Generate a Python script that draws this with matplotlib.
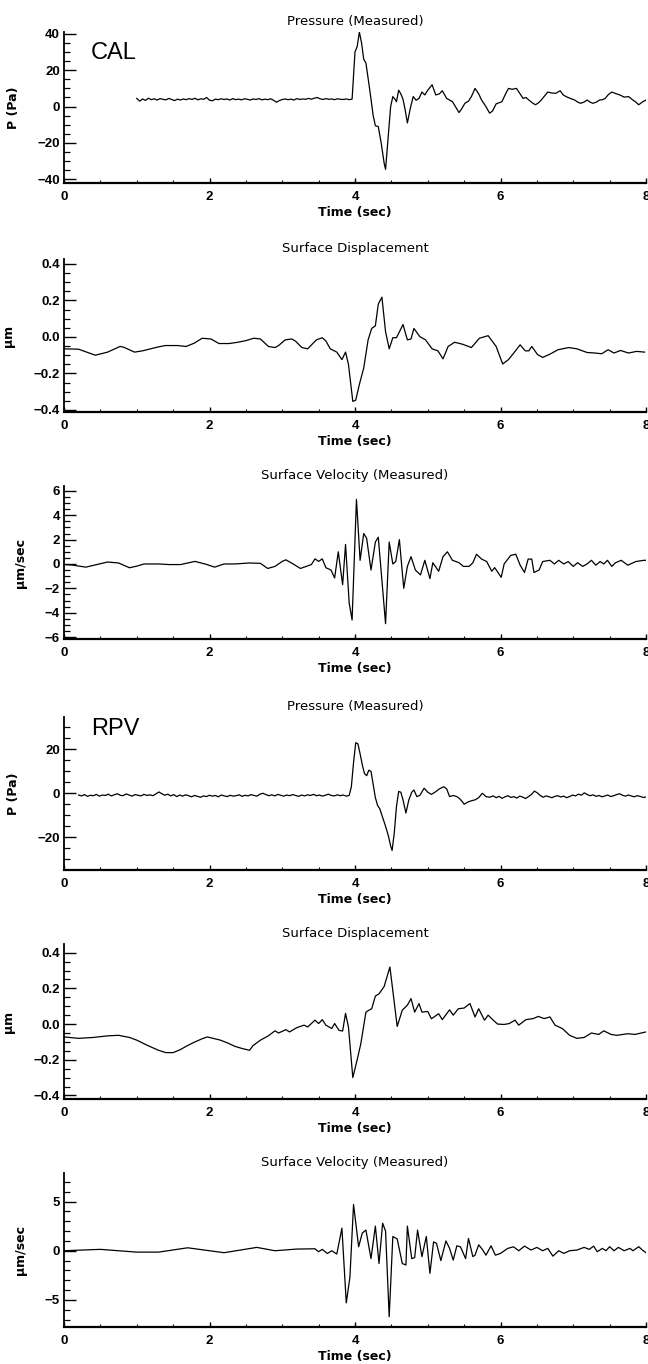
import numpy as np
import matplotlib
matplotlib.use("Agg")
import matplotlib.pyplot as plt
from matplotlib.ticker import MultipleLocator

# ---------------- data ----------------
# CAL pressure: noisy pre-arrival baseline (1.0 - 3.96 s) + event/tail
cal_p_base = [4.5, 3.0, 4.2, 3.4, 4.6, 3.8, 4.3, 3.6, 4.4, 4.0, 3.7, 4.5, 3.9, 3.3, 4.1,
              3.6, 4.2, 3.8, 4.4, 3.9, 4.6, 3.7, 4.3, 4.0, 5.0, 3.5, 3.2, 4.1, 3.8, 4.3,
              3.9, 4.2, 3.6, 4.4, 3.8, 4.1, 3.7, 4.3, 4.0, 3.6, 4.2, 3.9, 4.4, 3.7, 4.1,
              3.8, 4.3, 3.5, 2.4, 3.3, 3.9, 4.2, 3.8, 4.1, 3.6, 4.4, 3.9, 4.2, 4.0, 4.5,
              4.1, 4.6, 5.0, 4.3, 3.9, 4.4, 4.0, 4.2, 3.8, 4.3, 4.0, 3.9, 4.2, 3.8, 4.1]
cal_p_t = [4.00, 4.03, 4.06, 4.09, 4.12, 4.15, 4.20, 4.25, 4.28, 4.32, 4.36, 4.40, 4.42,
           4.45, 4.49, 4.52, 4.55, 4.57, 4.60, 4.63, 4.66, 4.69, 4.72, 4.76, 4.80, 4.84,
           4.88, 4.92, 4.96, 5.00, 5.06, 5.11, 5.16, 5.20, 5.26, 5.34, 5.38, 5.43, 5.47,
           5.51, 5.56, 5.60, 5.65, 5.70, 5.74, 5.80, 5.85, 5.89, 5.94, 6.02, 6.07, 6.11,
           6.16, 6.22, 6.27, 6.31, 6.35, 6.39, 6.44, 6.48, 6.52, 6.56, 6.61, 6.65, 6.70,
           6.76, 6.82, 6.86, 6.90, 6.96, 7.02, 7.06, 7.10, 7.15, 7.19, 7.23, 7.27, 7.32,
           7.36, 7.40, 7.44, 7.48, 7.53, 7.58, 7.64, 7.70, 7.76, 7.82, 7.86, 7.90, 7.95, 8.00]
cal_p_v = [30, 33, 41, 35, 26, 24, 10, -5, -10.5, -11, -20, -31, -34.5,
           -20, 0, 5.5, 4, 2.7, 9, 7, 4, -2, -9, -1, 5.5, 3.5,
           4.5, 8, 6.4, 9, 12, 6.4, 7, 8.7, 4.5, 2.7, 0, -3.3, -1,
           1.8, 3, 5.5, 10, 7, 3.6, 0, -3.6, -2.5, 1.5, 2.7, 7, 10,
           9.5, 10, 7, 4.5, 5, 3.6, 2, 1, 2, 3.6, 6, 8, 7.5,
           7.3, 8.7, 6.5, 5.5, 4.5, 3.6, 2.5, 1.8, 2.5, 3.6, 2.5, 1.8, 2.5,
           3.6, 3.8, 4.5, 6.5, 8, 7.2, 6.4, 5.2, 5.5, 3.6, 2.5, 1, 2.5, 3.6]

# CAL surface displacement (um)
cal_d_t = [0.00, 0.20, 0.43, 0.60, 0.77, 0.82, 0.97, 1.08, 1.28, 1.39, 1.56, 1.68, 1.79,
           1.90, 2.02, 2.13, 2.27, 2.39, 2.50, 2.61, 2.70, 2.81, 2.90, 2.95, 3.04, 3.13,
           3.18, 3.27, 3.35, 3.41, 3.47, 3.55, 3.60, 3.66, 3.75, 3.82, 3.87, 3.91, 3.97,
           4.01, 4.06, 4.12, 4.18, 4.23, 4.28, 4.32, 4.37, 4.42, 4.47, 4.52, 4.57, 4.66,
           4.72, 4.77, 4.81, 4.89, 4.97, 5.06, 5.14, 5.21, 5.28, 5.37, 5.48, 5.60, 5.71,
           5.83, 5.94, 6.03, 6.11, 6.20, 6.27, 6.34, 6.39, 6.43, 6.51, 6.58, 6.68, 6.79,
           6.94, 7.05, 7.19, 7.30, 7.39, 7.48, 7.56, 7.65, 7.76, 7.87, 7.98]
cal_d_v = [-0.065, -0.067, -0.100, -0.083, -0.052, -0.056, -0.083, -0.076, -0.056, -0.047,
           -0.047, -0.052, -0.034, -0.007, -0.011, -0.036, -0.036, -0.029, -0.020, -0.007,
           -0.011, -0.052, -0.058, -0.047, -0.016, -0.011, -0.022, -0.058, -0.065, -0.040,
           -0.016, -0.004, -0.022, -0.065, -0.083, -0.124, -0.083, -0.150, -0.353, -0.346,
           -0.260, -0.170, -0.016, 0.047, 0.061, 0.180, 0.218, 0.029, -0.065, -0.004,
           -0.004, 0.068, -0.016, -0.011, 0.047, 0.002, -0.016, -0.065, -0.076, -0.120,
           -0.052, -0.029, -0.040, -0.058, -0.007, 0.007, -0.052, -0.148, -0.124, -0.079,
           -0.043, -0.076, -0.076, -0.052, -0.097, -0.112, -0.094, -0.070, -0.058, -0.065,
           -0.085, -0.088, -0.092, -0.070, -0.088, -0.074, -0.088, -0.079, -0.083]

# CAL surface velocity (um/sec)
cal_v_t = [0.00, 0.10, 0.30, 0.60, 0.75, 0.90, 1.00, 1.10, 1.30, 1.45, 1.60, 1.80, 1.95,
           2.07, 2.20, 2.35, 2.55, 2.70, 2.80, 2.90, 3.00, 3.05, 3.15, 3.25, 3.40, 3.45,
           3.50, 3.55, 3.60, 3.67, 3.72, 3.77, 3.83, 3.87, 3.92, 3.96, 4.02, 4.07, 4.12,
           4.16, 4.22, 4.28, 4.32, 4.42, 4.47, 4.52, 4.56, 4.61, 4.67, 4.72, 4.77, 4.83,
           4.90, 4.96, 5.03, 5.07, 5.15, 5.21, 5.27, 5.34, 5.43, 5.49, 5.57, 5.62, 5.67,
           5.74, 5.81, 5.88, 5.92, 6.01, 6.05, 6.14, 6.21, 6.27, 6.33, 6.38, 6.43, 6.46,
           6.53, 6.58, 6.68, 6.74, 6.80, 6.87, 6.93, 7.00, 7.06, 7.13, 7.19, 7.25, 7.31,
           7.37, 7.42, 7.47, 7.53, 7.58, 7.66, 7.75, 7.86, 7.97, 8.00]
cal_v_v = [-0.05, -0.08, -0.26, 0.16, 0.08, -0.31, -0.18, 0.0, 0.0, -0.05, -0.05, 0.21, -0.02,
           -0.26, 0.0, 0.0, 0.08, 0.05, -0.37, -0.2, 0.21, 0.34, 0.0, -0.37, -0.05, 0.42,
           0.21, 0.42, -0.31, -0.5, -1.15, 1.0, -1.7, 1.6, -3.2, -4.6, 5.3, 0.3, 2.5,
           2.1, -0.5, 1.8, 2.2, -4.9, 1.8, 0.0, 0.2, 2.0, -2.0, -0.2, 0.6, -0.5,
           -0.9, 0.3, -1.2, 0.1, -0.6, 0.6, 1.0, 0.3, 0.1, -0.2, -0.2, 0.1, 0.8,
           0.4, 0.2, -0.6, -0.3, -1.1, 0.0, 0.7, 0.8, -0.1, -0.7, 0.4, 0.4, -0.7,
           -0.5, 0.2, 0.3, 0.0, 0.3, 0.0, 0.2, -0.2, 0.1, -0.2, 0.0, 0.3, -0.1,
           0.2, 0.0, 0.3, -0.2, 0.1, 0.3, -0.1, 0.2, 0.3, 0.3]

# RPV pressure: noisy baseline (0.2 - 3.92 s), event, noisy tail (5.9 - 8.0 s)
rpv_p_base = [-0.8, -1.2, -0.6, -1.4, -0.9, -1.1, -0.5, -1.3, -0.8, -1.0, -0.4, -1.2, -0.7,
              -0.2, -0.9, -1.1, -0.3, -0.8, -1.3, -0.6, -0.9, -1.2, -0.5, -1.0, -0.7, -1.1,
              -0.3, 0.6, -0.2, -0.9, -0.4, -1.2, -0.6, -1.5, -0.8, -1.3, -0.7, -1.1, -1.6,
              -1.0, -1.4, -1.8, -1.2, -1.5, -0.9, -1.3, -1.0, -1.6, -0.8, -1.2, -1.5, -0.9,
              -1.3, -1.1, -0.7, -1.4, -0.9, -1.2, -0.6, -1.0, -1.3, -0.4, 0.0, -0.6, -1.1,
              -0.7, -1.2, -0.5, -0.9, -1.3, -0.8, -1.1, -0.6, -1.0, -1.4, -0.8, -1.2, -0.7,
              -1.0, -0.5, -1.1, -0.8, -1.3, -0.9, -0.4, -1.0, -1.2, -0.7, -1.1, -0.8, -1.3, -1.0]
rpv_p_t = [3.95, 3.98, 4.01, 4.04, 4.07, 4.10, 4.13, 4.16, 4.19, 4.22, 4.25, 4.28, 4.31,
           4.34, 4.38, 4.42, 4.46, 4.49, 4.51, 4.54, 4.57, 4.60, 4.63, 4.66, 4.70, 4.74,
           4.78, 4.81, 4.85, 4.89, 4.95, 5.00, 5.05, 5.10, 5.16, 5.22, 5.26, 5.30, 5.35,
           5.40, 5.44, 5.48, 5.50, 5.55, 5.60, 5.65, 5.70, 5.75, 5.80, 5.85]
rpv_p_v = [3, 14, 23, 22.5, 18, 13, 9, 8, 10.5, 10, 4, -2, -5.5,
           -7, -11, -15, -19.5, -24, -26, -18, -6, 0.8, 0.5, -3, -9, -3,
           0.5, 1.5, -1.5, -1, 2.3, 0.5, -0.5, 0.5, 2, 3, 2, -1.5, -1,
           -1.5, -2.5, -4, -5, -4, -3.4, -3, -2, 0, -1.5, -1.8]
rpv_p_tail = [-1.2, -2.0, -1.4, -2.3, -1.6, -1.1, -1.9, -1.5, -2.2, -1.3, -1.7, -2.4, -1.5,
              -0.6, 1.0, 0.2, -1.0, -1.8, -1.2, -1.6, -2.0, -1.4, -1.1, -1.7, -1.3, -2.0,
              -1.5, -0.8, -1.2, -0.4, -0.9, 0.2, -0.6, -1.1, -0.7, -1.4, -1.0, -1.6, -1.2,
              -0.8, -1.5, -1.1, -0.6, -0.2, -0.9, -1.3, -0.8, -1.2, -1.6, -1.1, -1.4, -1.9, -1.7]

# RPV surface displacement (um)
rpv_d_t = [0.00, 0.20, 0.40, 0.60, 0.75, 0.90, 1.00, 1.15, 1.30, 1.40, 1.50, 1.60, 1.70,
           1.80, 1.90, 1.97, 2.05, 2.15, 2.25, 2.35, 2.45, 2.55, 2.60, 2.70, 2.80, 2.90,
           2.95, 3.05, 3.10, 3.20, 3.30, 3.35, 3.45, 3.50, 3.55, 3.60, 3.68, 3.72, 3.78,
           3.83, 3.87, 3.91, 3.97, 4.03, 4.08, 4.15, 4.20, 4.23, 4.28, 4.33, 4.40, 4.48,
           4.58, 4.65, 4.72, 4.77, 4.82, 4.88, 4.92, 5.00, 5.05, 5.15, 5.20, 5.30, 5.35,
           5.42, 5.50, 5.58, 5.65, 5.70, 5.78, 5.83, 5.90, 5.96, 6.05, 6.12, 6.20, 6.25,
           6.35, 6.45, 6.52, 6.60, 6.68, 6.75, 6.85, 6.95, 7.05, 7.15, 7.25, 7.35, 7.42,
           7.52, 7.60, 7.75, 7.85, 8.00]
rpv_d_v = [-0.072, -0.080, -0.075, -0.066, -0.063, -0.075, -0.090, -0.120, -0.147, -0.160,
           -0.160, -0.143, -0.120, -0.100, -0.082, -0.072, -0.080, -0.090, -0.106, -0.125,
           -0.137, -0.147, -0.120, -0.090, -0.068, -0.038, -0.050, -0.031, -0.044, -0.020,
           -0.006, -0.016, 0.022, 0.003, 0.025, -0.006, -0.025, 0.003, -0.035, -0.039,
           0.060, -0.016, -0.300, -0.200, -0.110, 0.067, 0.080, 0.086, 0.157, 0.170,
           0.210, 0.320, -0.013, 0.078, 0.106, 0.143, 0.067, 0.115, 0.067, 0.071, 0.030,
           0.058, 0.025, 0.080, 0.050, 0.086, 0.090, 0.115, 0.040, 0.086, 0.022, 0.050,
           0.022, 0.000, -0.002, 0.003, 0.022, -0.006, 0.025, 0.031, 0.043, 0.031, 0.040,
           -0.006, -0.025, -0.063, -0.080, -0.075, -0.050, -0.058, -0.038, -0.058, -0.063,
           -0.054, -0.058, -0.044]

# RPV surface velocity (um/sec)
rpv_v_t = [0.00, 0.50, 1.00, 1.30, 1.70, 2.20, 2.65, 2.90, 3.20, 3.45, 3.50, 3.55, 3.62,
           3.68, 3.75, 3.82, 3.88, 3.93, 3.98, 4.05, 4.10, 4.15, 4.22, 4.28, 4.33, 4.38,
           4.42, 4.47, 4.52, 4.58, 4.65, 4.70, 4.72, 4.78, 4.82, 4.86, 4.92, 4.98, 5.03,
           5.08, 5.12, 5.18, 5.25, 5.30, 5.35, 5.40, 5.45, 5.52, 5.56, 5.62, 5.65, 5.70,
           5.75, 5.80, 5.87, 5.93, 6.00, 6.10, 6.18, 6.25, 6.33, 6.42, 6.50, 6.58, 6.65,
           6.72, 6.80, 6.87, 6.95, 7.05, 7.15, 7.22, 7.28, 7.33, 7.40, 7.45, 7.50, 7.56,
           7.62, 7.70, 7.78, 7.82, 7.90, 7.95, 8.00]
rpv_v_v = [0.0, 0.14, -0.14, -0.14, 0.30, -0.20, 0.34, 0.0, 0.17, 0.20, -0.10, 0.14, -0.28,
           0.0, -0.34, 2.3, -5.3, -2.7, 4.7, 0.4, 1.8, 2.1, -0.8, 2.5, -1.3, 2.8,
           2.0, -6.7, 1.45, 1.2, -1.3, -1.45, 2.5, -0.8, -0.7, 2.1, -0.6, 1.45, -2.3,
           0.9, 0.75, -1.0, 1.0, 0.24, -0.95, 0.5, 0.4, -0.8, 1.25, -0.6, -0.45, 0.6,
           0.14, -0.45, 0.5, -0.45, -0.27, 0.24, 0.4, 0.0, 0.47, 0.07, 0.34, 0.0, 0.24,
           -0.55, 0.0, -0.27, 0.0, 0.07, 0.34, 0.14, 0.47, -0.1, 0.24, 0.0, 0.41, 0.0,
           0.34, 0.0, 0.24, 0.0, 0.41, 0.07, -0.2]

titles = ["Pressure (Measured)", "Surface Displacement", "Surface Velocity (Measured)"] * 2
ylabels = ["P (Pa)", "\u03bcm", "\u03bcm/sec"] * 2
xlabel = "Time (sec)"
site_labels = ["CAL", "RPV"]
xticks = [0, 2, 4, 6, 8]

# ---------------- assemble series ----------------
cal_p_x = np.concatenate([np.linspace(1.0, 3.96, len(cal_p_base)), cal_p_t])
cal_p_y = np.concatenate([cal_p_base, cal_p_v])
rpv_p_x = np.concatenate([np.linspace(0.2, 3.92, len(rpv_p_base)), rpv_p_t,
                          np.linspace(5.9, 8.0, len(rpv_p_tail))])
rpv_p_y = np.concatenate([rpv_p_base, rpv_p_v, rpv_p_tail])

series = [(cal_p_x, cal_p_y), (cal_d_t, cal_d_v), (cal_v_t, cal_v_v),
          (rpv_p_x, rpv_p_y), (rpv_d_t, rpv_d_v), (rpv_v_t, rpv_v_v)]

# layout (pixel boxes) and axis styling
W, H = 648, 1364
boxes = [(32, 183), (259, 412), (486, 639), (717, 870), (944, 1099), (1173, 1327)]
left_px, right_px = 64, 646
ylims = [(-42, 41), (-0.411, 0.427), (-6.16, 6.4), (-34.9, 34.7), (-0.42, 0.449), (-7.75, 7.9)]
ymajor = [20, 0.2, 2, 20, 0.2, 5]
yminor = [5, 0.05, 0.5, 5, 0.05, 1]
yfmt = ["{:.0f}", "{:.1f}", "{:.0f}", "{:.0f}", "{:.1f}", "{:.0f}"]
ylabel_x = [20, 15, 27, 20, 15, 27]

fig = plt.figure(figsize=(W / 100, H / 100), dpi=100)
fig.patch.set_facecolor("white")

for i, (x, y) in enumerate(series):
    top, bot = boxes[i]
    ax = fig.add_axes([left_px / W, 1 - bot / H, (right_px - left_px) / W, (bot - top) / H])
    ax.plot(x, y, color="black", lw=0.9)
    ax.set_xlim(0, 8)
    ax.set_ylim(*ylims[i])
    for s in ["top", "right"]:
        ax.spines[s].set_visible(False)
    ax.spines["left"].set_linewidth(1.3)
    ax.spines["bottom"].set_linewidth(1.6)
    ax.set_xticks(xticks)
    ax.xaxis.set_minor_locator(MultipleLocator(0.5))
    ax.yaxis.set_major_locator(MultipleLocator(ymajor[i]))
    ax.yaxis.set_minor_locator(MultipleLocator(yminor[i]))
    lo, hi = ylims[i]
    ticks = [t for t in ax.get_yticks() if lo - 1e-9 <= t <= hi + 1e-9]
    ax.set_yticks(ticks)
    ax.set_yticklabels([yfmt[i].format(t).replace("-", "\u2212") for t in ticks])
    ax.tick_params(axis="y", which="major", direction="in", length=8.5, width=1.0,
                   pad=3, labelsize=9.5)
    ax.tick_params(axis="y", which="minor", direction="in", length=4.3, width=0.9)
    ax.tick_params(axis="x", which="major", direction="in", length=3.5, width=1.0,
                   pad=6, labelsize=9.5)
    ax.tick_params(axis="x", which="minor", direction="in", length=2.0, width=0.8)
    for lab in ax.get_xticklabels() + ax.get_yticklabels():
        lab.set_fontweight("bold")
        lab.set_family("Liberation Sans")
    ax.set_title(titles[i], fontsize=9.5, family="DejaVu Sans", pad=5)
    ax.set_xlabel(xlabel, fontsize=9, fontweight="bold", family="DejaVu Sans", labelpad=2)
    ax.set_ylabel(ylabels[i], fontsize=9, fontweight="bold", family="DejaVu Sans")
    ax.yaxis.set_label_coords((ylabel_x[i] - left_px) / (right_px - left_px), 0.5)
    if i % 3 == 0:
        ax.text((91 - left_px) / (right_px - left_px), 1 - ((53 if i == 0 else 729) - top) / (bot - top),
                site_labels[i // 3], transform=ax.transAxes, fontsize=17,
                family="Liberation Sans", ha="left", va="center")

fig.savefig("out.png", dpi=100, facecolor="white")
